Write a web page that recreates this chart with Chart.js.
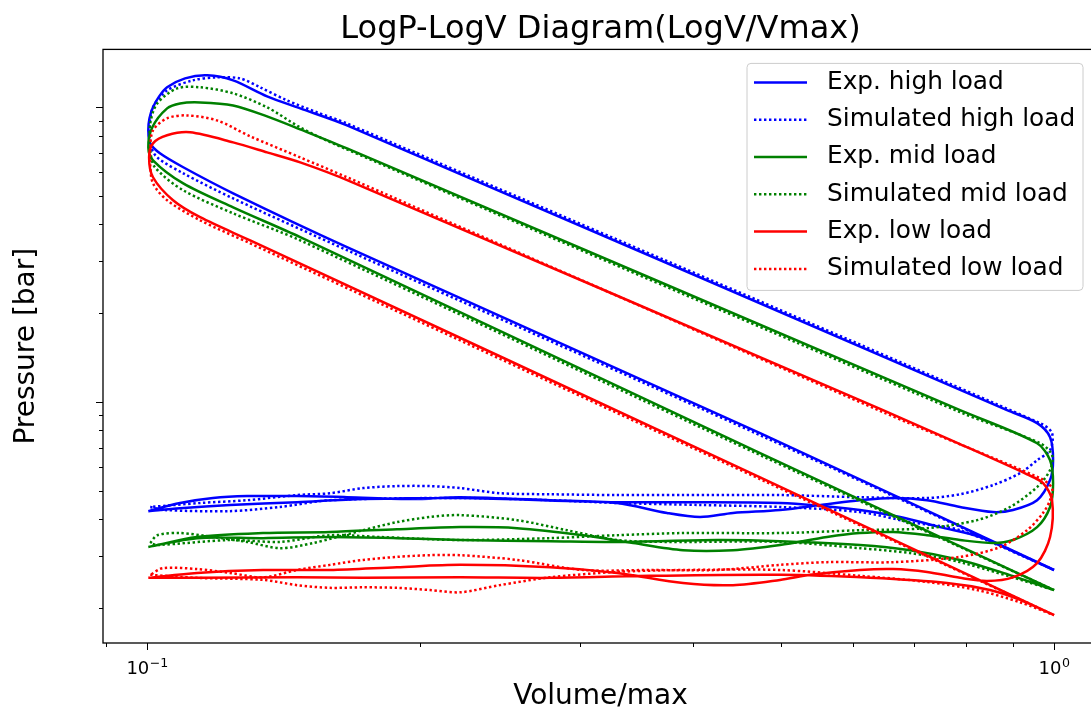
<!DOCTYPE html>
<html>
<head>
<meta charset="utf-8">
<script src="https://cdn.jsdelivr.net/npm/chart.js@4.4.0/dist/chart.umd.min.js"></script>
<style>
  html, body { margin: 0; padding: 0; overflow: hidden; background: #fff; }
  #wrap { width: 1120px; height: 711px; }
</style>
</head>
<body>
<div id="wrap"><canvas id="pv"></canvas></div>
<script>
/* globals Chart:false */

const expHighV = [0.1003, 0.1087, 0.1234, 0.1463, 0.1730, 0.2214, 0.3297, 0.4987, 0.6108, 0.6764, 0.7486, 0.8287, 1.0, 1.0, 0.4741, 0.1661, 0.1244, 0.1096, 0.1033, 0.1008, 0.1003, 0.1006, 0.1015, 0.1031, 0.1052, 0.1101, 0.1165, 0.1244, 0.1356, 0.1475, 0.1661, 0.8875, 0.9578, 0.9899, 0.9975, 0.9899, 0.9578, 0.9010, 0.8564, 0.7876, 0.7244, 0.6645, 0.6108, 0.5619, 0.4987, 0.4426, 0.4071, 0.3743, 0.3297, 0.2781, 0.2214, 0.1965, 0.1661, 0.1463, 0.1289, 0.1182, 0.1087, 0.1003]
const expHighP = [4.26, 4.36, 4.47, 4.57, 4.68, 4.72, 4.57, 4.54, 4.30, 4.07, 3.76, 3.48, 2.69, 2.69, 7.83, 33.5, 51.0, 62.5, 69.7, 75.3, 83.4, 91.6, 99.8, 108.7, 116.7, 125.1, 128.1, 123.2, 108.7, 99.0, 86.7, 9.37, 8.47, 7.59, 6.34, 5.43, 4.64, 4.30, 4.23, 4.40, 4.64, 4.72, 4.64, 4.50, 4.30, 4.20, 4.07, 4.20, 4.54, 4.64, 4.75, 4.68, 4.75, 4.79, 4.79, 4.72, 4.54, 4.26]

const simHighV = [0.1008, 0.1041, 0.1234, 0.1401, 0.1591, 0.2214, 0.2781, 0.3297, 0.4071, 0.4987, 0.6108, 0.6938, 0.7876, 1.0, 1.0, 0.4741, 0.1661, 0.1244, 0.1096, 0.1026, 0.1008, 0.1005, 0.1015, 0.1052, 0.1123, 0.1194, 0.1266, 0.1332, 0.1426, 0.1540, 0.1661, 0.9651, 0.9949, 0.9899, 0.9578, 0.9173, 0.8564, 0.7876, 0.7244, 0.6108, 0.4987, 0.3899, 0.3297, 0.2781, 0.2449, 0.2214, 0.2051, 0.1886, 0.1730, 0.1591, 0.1463, 0.1289, 0.1144, 0.1008]
const simHighP = [4.40, 4.30, 4.26, 4.40, 4.64, 4.72, 4.64, 4.54, 4.47, 4.40, 4.23, 3.91, 3.67, 2.69, 2.69, 7.71, 32.7, 49.0, 59.6, 67.5, 74.2, 83.4, 99.8, 113.9, 123.2, 126.1, 125.1, 116.7, 105.4, 95.9, 88.0, 8.47, 7.83, 6.86, 6.34, 5.73, 5.22, 4.86, 4.72, 4.75, 4.83, 4.83, 4.83, 4.86, 4.90, 5.10, 5.18, 5.18, 5.10, 4.90, 4.83, 4.64, 4.54, 4.40]

const expMidV = [0.1003, 0.1135, 0.1342, 0.1591, 0.1886, 0.2214, 0.2781, 0.3297, 0.4250, 0.4987, 0.6108, 0.6938, 0.7876, 0.8720, 1.0, 1.0, 0.4741, 0.1475, 0.1244, 0.1096, 0.1015, 0.1003, 0.1013, 0.1052, 0.1087, 0.1144, 0.1244, 0.1356, 0.1475, 0.1661, 0.7876, 0.9578, 0.9899, 0.9975, 0.9899, 0.9578, 0.9010, 0.8564, 0.7876, 0.7244, 0.6645, 0.6108, 0.5619, 0.4987, 0.4426, 0.3899, 0.3435, 0.3025, 0.2558, 0.2214, 0.1886, 0.1591, 0.1342, 0.1135, 0.1003]
const expMidP = [3.22, 3.45, 3.45, 3.48, 3.45, 3.40, 3.37, 3.35, 3.40, 3.37, 3.27, 3.14, 2.91, 2.65, 2.30, 2.30, 6.70, 36.2, 45.7, 55.1, 66.0, 73.0, 85.3, 99.0, 102.9, 103.7, 101.3, 93.0, 84.0, 72.4, 9.37, 7.24, 6.34, 5.30, 4.40, 3.76, 3.40, 3.32, 3.40, 3.53, 3.62, 3.59, 3.48, 3.27, 3.14, 3.14, 3.32, 3.53, 3.73, 3.76, 3.70, 3.62, 3.59, 3.48, 3.22]

const simMidV = [0.1008, 0.1026, 0.1087, 0.1182, 0.1289, 0.1401, 0.1524, 0.1730, 0.1886, 0.2051, 0.2214, 0.2558, 0.2904, 0.3297, 0.3743, 0.4987, 0.6108, 0.6938, 0.7876, 1.0, 1.0, 0.4741, 0.1475, 0.1244, 0.1096, 0.1020, 0.1008, 0.1008, 0.1026, 0.1079, 0.1144, 0.1244, 0.1356, 0.1475, 0.1603, 0.7876, 0.9651, 0.9949, 0.9899, 0.9578, 0.8942, 0.8225, 0.7244, 0.6108, 0.4987, 0.3899, 0.3297, 0.2781, 0.2214, 0.1807, 0.1591, 0.1401, 0.1234, 0.1026, 0.1008]
const simMidP = [3.32, 3.53, 3.59, 3.48, 3.35, 3.19, 3.32, 3.67, 3.91, 4.07, 4.13, 3.97, 3.67, 3.40, 3.35, 3.35, 3.19, 3.07, 2.86, 2.30, 2.30, 6.60, 35.3, 43.6, 52.2, 62.5, 71.3, 88.0, 102.9, 115.7, 116.7, 111.3, 99.8, 85.3, 75.3, 9.23, 7.24, 6.60, 5.87, 5.14, 4.40, 3.97, 3.73, 3.67, 3.59, 3.59, 3.53, 3.45, 3.40, 3.48, 3.53, 3.35, 3.40, 3.27, 3.32]

const expLowV = [0.1003, 0.1135, 0.1463, 0.1730, 0.2214, 0.2781, 0.3585, 0.4987, 0.6266, 0.7621, 0.8499, 0.9173, 1.0, 1.0, 0.4741, 0.1299, 0.1144, 0.1068, 0.1015, 0.1005, 0.1015, 0.1052, 0.1115, 0.1244, 0.1356, 0.1475, 0.1674, 0.6477, 0.7876, 0.9337, 0.9725, 0.9949, 0.9899, 0.9578, 0.9010, 0.8435, 0.7876, 0.7244, 0.6645, 0.6108, 0.5383, 0.4987, 0.4426, 0.3899, 0.3297, 0.2781, 0.2214, 0.1886, 0.1591, 0.1342, 0.1135, 0.1003]
const expLowP = [2.53, 2.53, 2.54, 2.53, 2.54, 2.53, 2.57, 2.59, 2.53, 2.43, 2.30, 2.13, 1.891, 1.891, 5.55, 35.3, 42.3, 48.3, 57.8, 67.5, 75.3, 80.2, 82.1, 75.9, 70.2, 64.9, 56.0, 9.37, 7.19, 5.68, 5.30, 4.64, 3.48, 2.84, 2.54, 2.47, 2.53, 2.65, 2.71, 2.69, 2.59, 2.49, 2.39, 2.43, 2.63, 2.75, 2.80, 2.75, 2.69, 2.69, 2.63, 2.53]

const simLowV = [0.1008, 0.1135, 0.1342, 0.1463, 0.1591, 0.1730, 0.1886, 0.2051, 0.2214, 0.2449, 0.2781, 0.3297, 0.3899, 0.4987, 0.6108, 0.7244, 0.8225, 0.9173, 1.0, 1.0, 0.4741, 0.1299, 0.1144, 0.1052, 0.1015, 0.1008, 0.1008, 0.1015, 0.1052, 0.1107, 0.1194, 0.1299, 0.1475, 0.1661, 0.6477, 0.9651, 0.9949, 0.9899, 0.9725, 0.9337, 0.8720, 0.7876, 0.6645, 0.5619, 0.4987, 0.4250, 0.3585, 0.3025, 0.2558, 0.2214, 0.2051, 0.1886, 0.1730, 0.1591, 0.1463, 0.1342, 0.1234, 0.1135, 0.1041, 0.1008]
const simLowP = [2.59, 2.53, 2.49, 2.39, 2.34, 2.35, 2.34, 2.30, 2.26, 2.39, 2.54, 2.65, 2.69, 2.69, 2.57, 2.45, 2.30, 2.09, 1.891, 1.891, 5.47, 34.5, 41.3, 48.3, 55.1, 63.4, 73.0, 83.4, 91.6, 93.7, 90.1, 79.6, 67.5, 57.8, 9.23, 5.51, 5.10, 4.64, 4.20, 3.67, 3.22, 2.98, 2.86, 2.86, 2.80, 2.69, 2.69, 2.69, 2.91, 3.02, 3.02, 2.98, 2.91, 2.80, 2.69, 2.54, 2.63, 2.71, 2.73, 2.59]

const seriesLabels = ['Exp. high load', 'Simulated high load', 'Exp. mid load', 'Simulated mid load', 'Exp. low load', 'Simulated low load']
const xTickValues = [0.09, 0.1, 0.2, 0.3, 0.4, 0.5, 0.6, 0.7, 0.8, 0.9, 1]
const xTickLabels = { 0.1: ['10', '\u22121'], 1: ['10', '0'] } // base, exponent
const yTickValues = [2, 3, 4, 5, 6, 7, 8, 9, 10, 20, 30, 40, 50, 60, 70, 80, 90, 100]

const seriesV = [expHighV, simHighV, expMidV, simMidV, expLowV, simLowV]
const seriesP = [expHighP, simHighP, expMidP, simMidP, expLowP, simLowP]
const colors = ['#0000ff', '#0000ff', '#008000', '#008000', '#ff0000', '#ff0000']
const dotted = [false, true, false, true, false, true]
const DOTS = [2.4, 2.6]
const FONT = 'DejaVu Sans'

const datasets = seriesLabels.map((label, i) => ({
  label,
  data: seriesV[i].map((v, k) => ({ x: v, y: seriesP[i][k] })),
  borderColor: colors[i],
  backgroundColor: colors[i],
  borderWidth: 2.5,
  borderDash: dotted[i] ? DOTS : [],
  pointRadius: 0,
  tension: 0.3,
  fill: false,
  order: seriesLabels.length - i // later series on top, like pyplot
}))

const isDecade = v => Math.abs(Math.log10(v) - Math.round(Math.log10(v))) < 1e-6

// frame + outward tick marks (major longer than minor) + 10^n labels
const frameTicks = {
  id: 'frameTicks',
  afterDraw(chart) {
    const { ctx, chartArea: a, scales } = chart
    ctx.save()
    ctx.strokeStyle = '#000'
    ctx.lineWidth = 1.3
    ctx.strokeRect(a.left, a.top, a.right - a.left, a.bottom - a.top)
    ctx.lineWidth = 1
    ctx.beginPath()
    scales.x.ticks.forEach(t => {
      const px = Math.round(scales.x.getPixelForValue(t.value)) + 0.5
      ctx.moveTo(px, a.bottom)
      ctx.lineTo(px, a.bottom + (isDecade(t.value) ? 7 : 4))
    })
    scales.y.ticks.forEach(t => {
      const py = Math.round(scales.y.getPixelForValue(t.value)) + 0.5
      ctx.moveTo(a.left, py)
      ctx.lineTo(a.left - (isDecade(t.value) ? 7 : 4), py)
    })
    ctx.stroke()

    ctx.fillStyle = '#000'
    ctx.textBaseline = 'alphabetic'
    const big = '18px "' + FONT + '"', small = '12.6px "' + FONT + '"'
    xTickValues.forEach(v => {
      const lab = xTickLabels[v]
      if (!lab) return
      ctx.font = big
      const w1 = ctx.measureText(lab[0]).width
      ctx.font = small
      const w2 = ctx.measureText(lab[1]).width
      const x0 = scales.x.getPixelForValue(v) - (w1 + w2) / 2
      ctx.font = big
      ctx.fillText(lab[0], x0, a.bottom + 31)
      ctx.font = small
      ctx.fillText(lab[1], x0 + w1 + 0.5, a.bottom + 24)
    })
    ctx.restore()
  }
}

// pyplot-like legend box in the upper right of the axes
const boxLegend = {
  id: 'boxLegend',
  afterDraw(chart) {
    const { ctx, chartArea: a } = chart
    const w = 336, h = 227, r = 4
    const left = a.right - 15 - w, top = a.top + 14
    ctx.save()
    ctx.beginPath()
    ctx.moveTo(left + r, top)
    ctx.arcTo(left + w, top, left + w, top + h, r)
    ctx.arcTo(left + w, top + h, left, top + h, r)
    ctx.arcTo(left, top + h, left, top, r)
    ctx.arcTo(left, top, left + w, top, r)
    ctx.closePath()
    ctx.fillStyle = 'rgba(255,255,255,0.8)'
    ctx.fill()
    ctx.strokeStyle = '#cccccc'
    ctx.lineWidth = 1
    ctx.stroke()
    ctx.font = '24.8px "' + FONT + '"'
    ctx.textBaseline = 'middle'
    ctx.fillStyle = '#000'
    chart.data.datasets.forEach((ds, i) => {
      const y = top + 19 + i * 37.3
      ctx.beginPath()
      ctx.setLineDash(ds.borderDash)
      ctx.strokeStyle = ds.borderColor
      ctx.lineWidth = ds.borderWidth
      ctx.moveTo(left + 7, y)
      ctx.lineTo(left + 60, y)
      ctx.stroke()
      ctx.setLineDash([])
      ctx.fillText(ds.label, left + 80, y)
    })
    ctx.restore()
  }
}

const ctx = document.getElementById('pv')
// eslint-disable-next-line no-unused-vars
const pvChart = new Chart(ctx, {
  type: 'line',
  data: { datasets },
  plugins: [frameTicks, boxLegend],
  options: {
    responsive: true,
    maintainAspectRatio: false,
    animation: false,
    events: [],
    layout: { padding: { left: 0, right: 22, top: 0, bottom: 0 } },
    scales: {
      x: {
        type: 'logarithmic',
        min: 0.0894,
        max: 1.118,
        afterBuildTicks: s => { s.ticks = xTickValues.map(v => ({ value: v })) },
        afterFit: s => { s.height = 68 },
        grid: { display: false, drawTicks: false },
        border: { display: false },
        ticks: { display: false },
        title: {
          display: true,
          text: 'Volume/max',
          color: '#000',
          font: { family: FONT, size: 28, lineHeight: 1.0 },
          padding: { top: 0, bottom: 0 }
        }
      },
      y: {
        type: 'logarithmic',
        min: 1.521,
        max: 156.9,
        afterBuildTicks: s => { s.ticks = yTickValues.map(v => ({ value: v })) },
        afterFit: s => { s.width = 103 },
        grid: { display: false, drawTicks: false },
        border: { display: false },
        ticks: { display: false },
        title: {
          display: true,
          text: 'Pressure [bar]',
          color: '#000',
          font: { family: FONT, size: 28 },
          padding: { top: 10, bottom: 0 }
        }
      }
    },
    plugins: {
      legend: { display: false },
      tooltip: { enabled: false },
      title: {
        display: true,
        text: 'LogP-LogV Diagram(LogV/Vmax)',
        fullSize: false,
        color: '#000',
        font: { family: FONT, size: 32, weight: 'normal' },
        padding: { top: 10, bottom: 1 }
      }
    }
  }
})
</script>
</body>
</html>
